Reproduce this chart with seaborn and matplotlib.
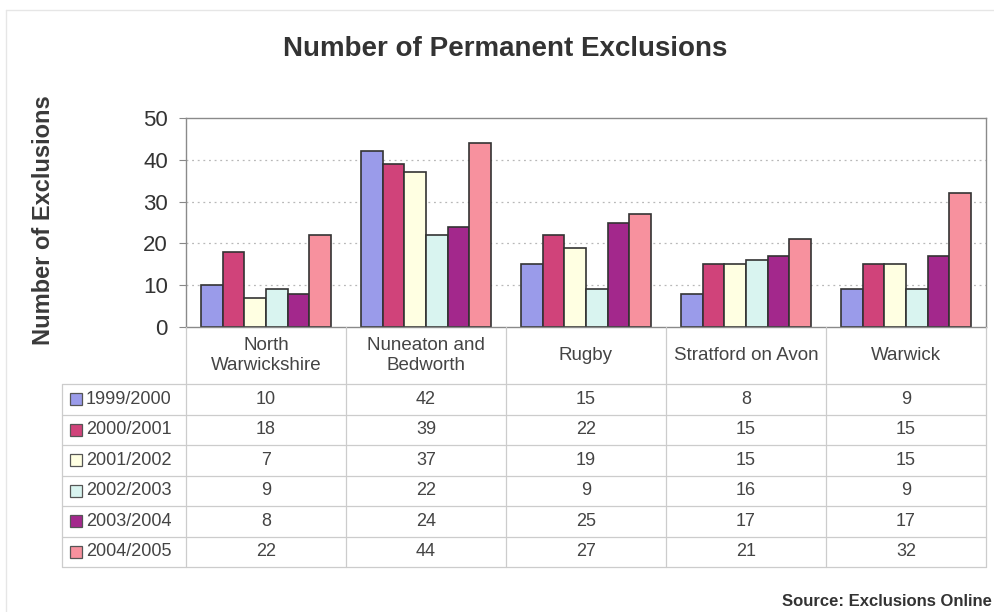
import matplotlib
matplotlib.use("Agg")
import matplotlib.pyplot as plt
import matplotlib.transforms as mtransforms
from matplotlib.patches import Rectangle
from matplotlib.lines import Line2D
import seaborn as sns
import pandas as pd

areas = ["North\nWarwickshire", "Nuneaton and\nBedworth", "Rugby", "Stratford on Avon", "Warwick"]
seasons = ["1999/2000", "2000/2001", "2001/2002", "2002/2003", "2003/2004", "2004/2005"]
v_1999 = [10, 42, 15, 8, 9]
v_2000 = [18, 39, 22, 15, 15]
v_2001 = [7, 37, 19, 15, 15]
v_2002 = [9, 22, 9, 16, 9]
v_2003 = [8, 24, 25, 17, 17]
v_2004 = [22, 44, 27, 21, 32]
series = [v_1999, v_2000, v_2001, v_2002, v_2003, v_2004]
colors = ["#9A9BEA", "#D0437A", "#FFFFE2", "#D9F4F0", "#A3288C", "#F7919E"]
y_ticks = [0, 10, 20, 30, 40, 50]

rows = []
for s, vals in zip(seasons, series):
    for a, v in zip(areas, vals):
        rows.append({"Area": a, "Season": s, "Exclusions": v})
df = pd.DataFrame(rows)

sns.set_theme(style="white")
plt.rcParams["font.family"] = ["Liberation Sans", "DejaVu Sans"]

W, H = 994, 612
fig = plt.figure(figsize=(W / 100, H / 100), dpi=100)
fig.patch.set_facecolor("white")

def fx(px):
    return px / W

def fy(py):
    return 1 - py / H

left, right, top, bottom = 186, 986, 118, 327
ax = fig.add_axes([fx(left), fy(bottom), fx(right - left), fy(top) - fy(bottom)])

sns.barplot(data=df, x="Area", y="Exclusions", hue="Season", palette=colors,
            order=areas, hue_order=seasons, width=0.81, dodge=True, saturation=1,
            edgecolor="#333333", linewidth=1.2, legend=False, ax=ax, errorbar=None)

ax.set_xlim(-0.5, len(areas) - 0.5)
ax.set_ylim(0, 50)
ax.set_yticks(y_ticks)
ax.set_yticklabels([str(t) for t in y_ticks], fontsize=16, color="#333333")
ax.tick_params(axis="y", direction="out", length=5, width=0.8, color="#888888", pad=8, left=True)
ax.set_xticks([])
ax.set_xlabel("")
ax.set_ylabel("")
for sp in ax.spines.values():
    sp.set_color("#8a8a8a")
    sp.set_linewidth(1.0)
for t in y_ticks[1:-1]:
    ax.axhline(t, color="#b8b8b8", linestyle=(0, (1.5, 3)), linewidth=0.9, zorder=0)

# Title, axis label and source
fig.text(fx(505), fy(49), "Number of Permanent Exclusions", ha="center", va="center",
         fontsize=20, fontweight="bold", color="#333333")
fig.text(fx(44), fy(220), "Number of Exclusions", ha="center", va="center", rotation=90,
         fontsize=17, fontweight="bold", color="#3a3a3a")
fig.text(fx(992), fy(601), "Source: Exclusions Online", ha="right", va="center",
         fontsize=12, fontweight="bold", color="#333333")

# Data table below the plot
trans = mtransforms.blended_transform_factory(ax.transData, fig.transFigure)
line_col = "#cccccc"
header_bottom = 384
row_h = 30.5
table_left = 62
n = len(seasons)
table_bottom = header_bottom + n * row_h

for i in range(len(areas) + 1):
    fig.add_artist(Line2D([i - 0.5, i - 0.5], [fy(bottom), fy(table_bottom)],
                          transform=trans, color=line_col, linewidth=0.9))
for r in range(n + 1):
    y = header_bottom + r * row_h
    fig.add_artist(Line2D([fx(table_left), fx(right)], [fy(y), fy(y)],
                          transform=fig.transFigure, color=line_col, linewidth=0.9))
fig.add_artist(Line2D([fx(table_left), fx(table_left)], [fy(header_bottom), fy(table_bottom)],
                      transform=fig.transFigure, color=line_col, linewidth=0.9))

for i, a in enumerate(areas):
    fig.text(i, fy((bottom + header_bottom) / 2), a, transform=trans, ha="center", va="center",
             fontsize=13.5, color="#444444", linespacing=1.3)

for r, (s, vals, c) in enumerate(zip(seasons, series, colors)):
    yc = header_bottom + (r + 0.5) * row_h
    fig.add_artist(Rectangle((fx(70), fy(yc + 6)), fx(12), fy(0) - fy(12),
                             transform=fig.transFigure, facecolor=c,
                             edgecolor="#555555", linewidth=0.9))
    fig.text(fx(86), fy(yc), s, ha="left", va="center", fontsize=13, color="#444444")
    for i, v in enumerate(vals):
        fig.text(i, fy(yc), str(v), transform=trans, ha="center", va="center",
                 fontsize=13, color="#444444")

# Faint frame along the top and left edges
fig.add_artist(Line2D([fx(6), fx(994)], [fy(10), fy(10)], transform=fig.transFigure,
                      color="#e6e6e6", linewidth=1.0))
fig.add_artist(Line2D([fx(6), fx(6)], [fy(10), fy(612)], transform=fig.transFigure,
                      color="#e6e6e6", linewidth=1.0))

fig.savefig("out.png", dpi=100, facecolor="white")
